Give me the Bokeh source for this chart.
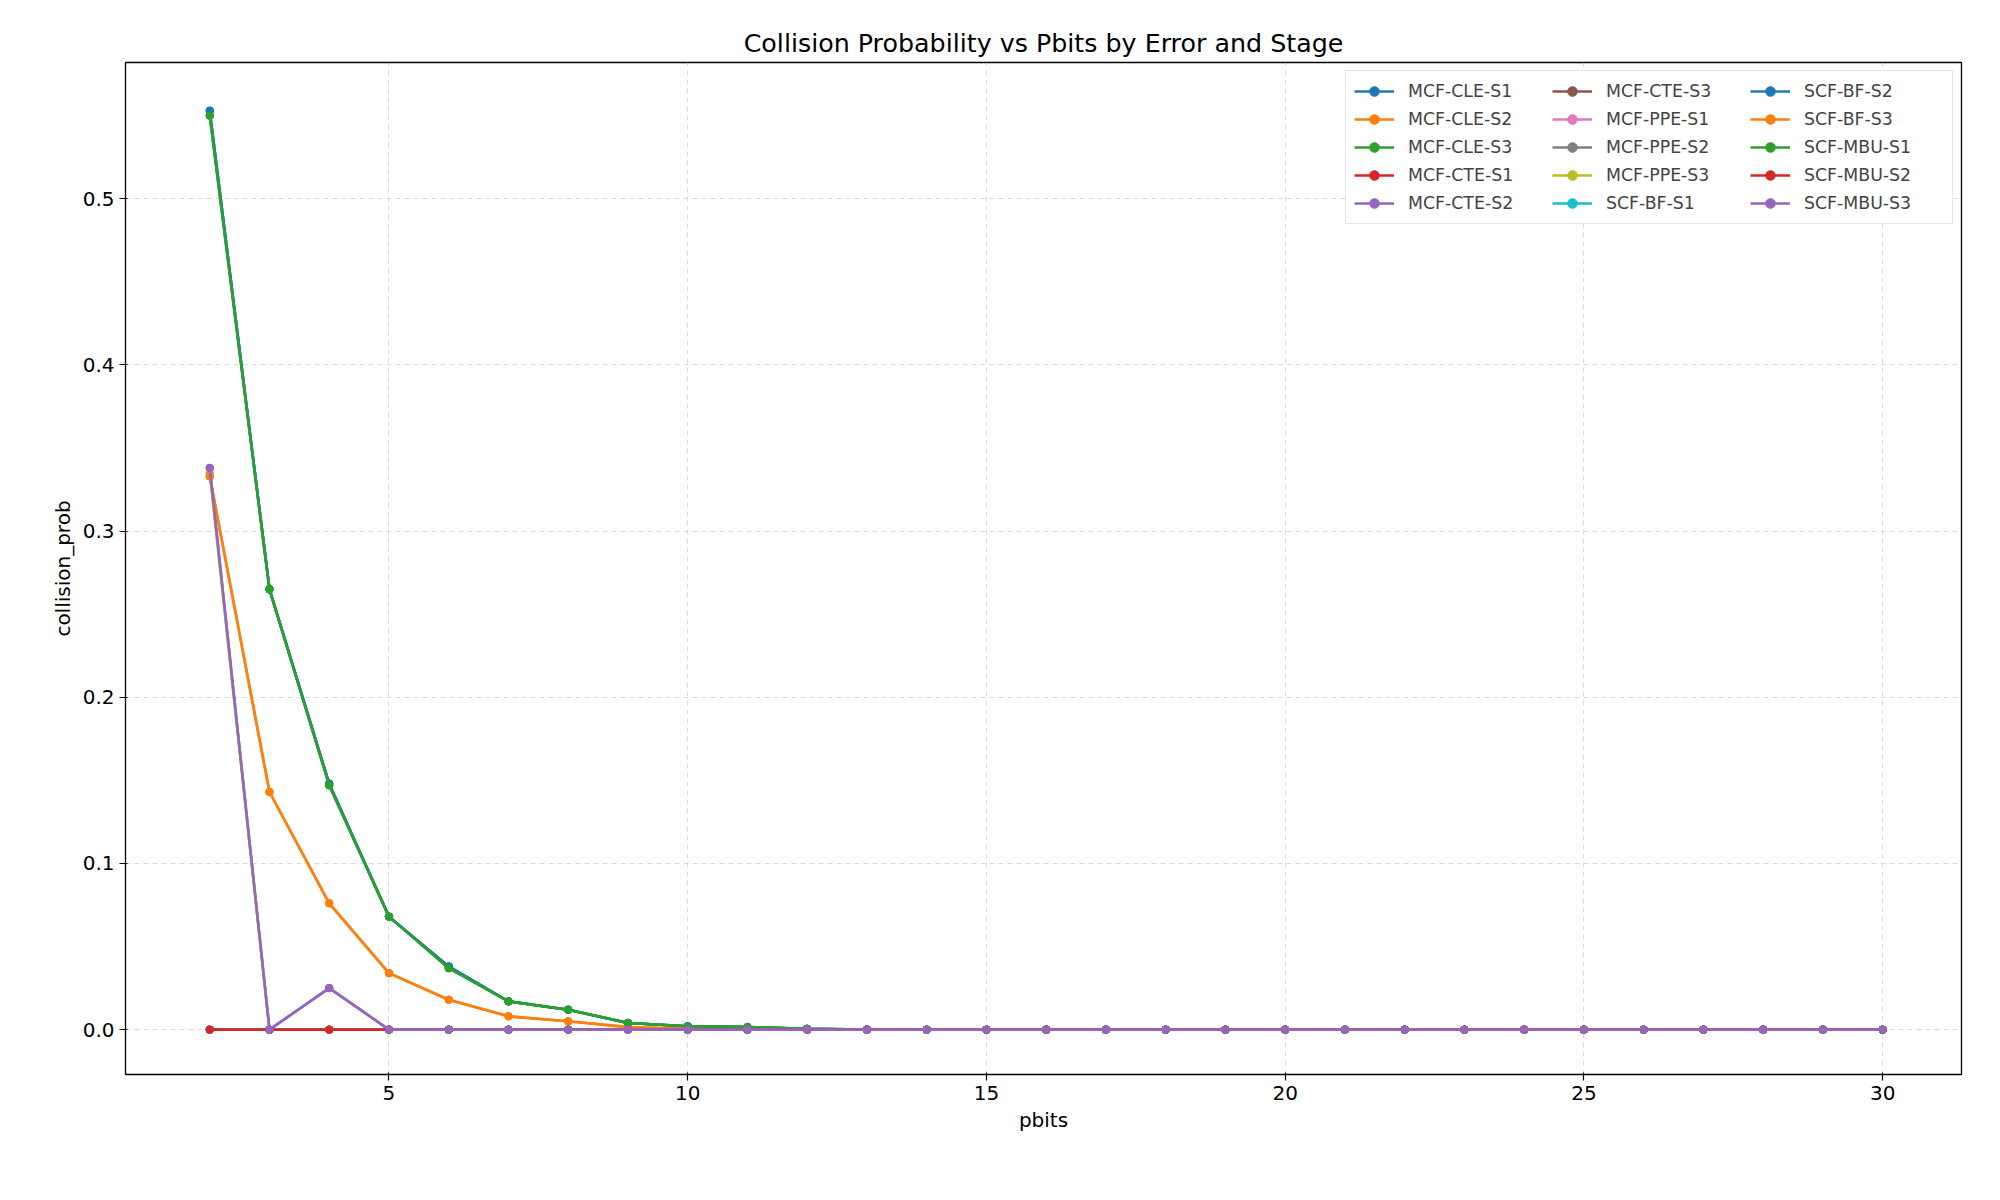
from bokeh.plotting import figure
from bokeh.models import Range1d, Legend, LegendItem, CustomJSTickFormatter
from bokeh.embed import file_html
from bokeh.resources import INLINE

pbits = list(range(2, 31))
n = len(pbits)

cle_fast = [0.553, 0.265, 0.148, 0.068, 0.038, 0.017, 0.012, 0.004, 0.002, 0.0015, 0.0005] + [0.0] * (n - 11)
cle_fast_b = [0.550, 0.265, 0.147, 0.068, 0.037, 0.017, 0.012, 0.004, 0.002, 0.0015, 0.0005] + [0.0] * (n - 11)
cle_mid = [0.333, 0.143, 0.076, 0.034, 0.018, 0.008, 0.005, 0.0015, 0.0005] + [0.0] * (n - 9)
cte_s2 = [0.338, 0.0, 0.025] + [0.0] * (n - 3)
ppe_s3 = [0.335] + [0.0] * (n - 1)
zeros = [0.0] * n

names = ["MCF-CLE-S1", "MCF-CLE-S2", "MCF-CLE-S3", "MCF-CTE-S1", "MCF-CTE-S2",
         "MCF-CTE-S3", "MCF-PPE-S1", "MCF-PPE-S2", "MCF-PPE-S3", "SCF-BF-S1",
         "SCF-BF-S2", "SCF-BF-S3", "SCF-MBU-S1", "SCF-MBU-S2", "SCF-MBU-S3"]
series = [cle_fast, cle_mid, cle_fast_b, zeros, cte_s2,
          zeros, zeros, zeros, ppe_s3, zeros,
          cle_fast, cle_mid, cle_fast_b, zeros, cte_s2]
colors = ["#1f77b4", "#ff7f0e", "#2ca02c", "#d62728", "#9467bd", "#8c564b",
          "#e377c2", "#7f7f7f", "#bcbd22", "#17becf"]

p = figure(width=1984, height=1184, output_backend="svg", toolbar_location=None,
           title="Collision Probability vs Pbits by Error and Stage",
           x_range=Range1d(0.59, 31.32), y_range=Range1d(-0.027, 0.582),
           min_border_left=125, min_border_right=23, min_border_top=62, min_border_bottom=110)
p.title.align = "center"
p.title.text_font = "DejaVu Sans"
p.title.text_font_size = "19pt"
p.title.text_font_style = "normal"
p.title.text_color = "black"
p.xaxis.axis_label = "pbits"
p.yaxis.axis_label = "collision_prob"
for ax in (p.xaxis, p.yaxis):
    ax.axis_label_text_font = "DejaVu Sans"
    ax.axis_label_text_font_size = "15pt"
    ax.axis_label_text_font_style = "normal"
    ax.axis_label_text_color = "black"
    ax.major_label_text_font = "DejaVu Sans"
    ax.major_label_text_font_size = "15pt"
    ax.major_label_text_color = "black"
    ax.minor_tick_line_color = None
    ax.axis_line_color = None
    ax.major_tick_line_color = "black"
    ax.major_tick_line_width = 1.2
    ax.major_tick_out = 6
p.xaxis.ticker = [5, 10, 15, 20, 25, 30]
p.yaxis.ticker = [0.0, 0.1, 0.2, 0.3, 0.4, 0.5]
p.yaxis.formatter = CustomJSTickFormatter(code="return tick.toFixed(1);")
p.outline_line_color = "black"
p.outline_line_alpha = 1
p.outline_line_width = 1.3
p.grid.grid_line_color = "#cccccc"
p.grid.grid_line_alpha = 0.7
p.grid.grid_line_dash = "5 4"

items = []
for i, (name, ys) in enumerate(zip(names, series)):
    c = colors[i % 10]
    l = p.line(pbits, ys, line_color=c, line_width=2.6)
    s = p.scatter(pbits, ys, fill_color=c, line_color=c, size=7.5)
    items.append(LegendItem(label=name, renderers=[l, s]))

legend = Legend(items=items, ncols=3, location="top_right", label_text_font="DejaVu Sans",
                label_text_font_size="13pt", border_line_color="#cccccc",
                spacing=4, padding=8, margin=8, glyph_height=24, label_height=24,
                label_standoff=14, glyph_width=40, label_width=140)
p.add_layout(legend)

open("out.html", "w").write(file_html(p, INLINE))
